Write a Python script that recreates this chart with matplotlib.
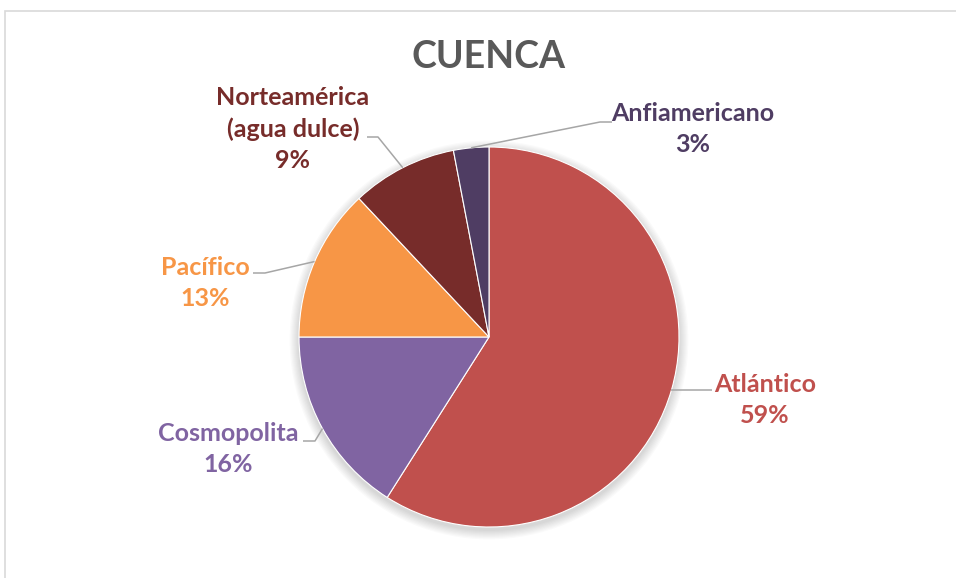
import numpy as np
import matplotlib
matplotlib.use("Agg")
import matplotlib.pyplot as plt
from matplotlib.patches import Circle

# ---- data ----
title = "CUENCA"
categories = ["Atlántico", "Cosmopolita", "Pacífico", "Norteamérica\n(agua dulce)", "Anfiamericano"]
values = [59, 16, 13, 9, 3]
colors = ["#C0504D", "#8064A2", "#F79646", "#772C2A", "#4F3D63"]

W, H = 956, 578
def Y(py):
    return H - py

plt.rcParams['font.family'] = ['Lato', 'DejaVu Sans']

fig = plt.figure(figsize=(W / 100, H / 100), dpi=100)
ax = fig.add_axes([0, 0, 1, 1])

cx, cy, R = 489, 337, 190

# soft shadow
for k in range(8):
    ax.add_patch(Circle((cx, Y(cy + 3)), R + 1 + k * 1.2, color="#000000",
                        alpha=0.018, lw=0, zorder=0))

wedges, _ = ax.pie(values, colors=colors, startangle=90, counterclock=False,
                   center=(cx, Y(cy)), radius=R,
                   wedgeprops=dict(linewidth=0.8, edgecolor="white"))
for w in wedges:
    w.set_zorder(2)

ax.set_xlim(0, W)
ax.set_ylim(0, H)
ax.set_aspect('auto')
ax.axis('off')

# frame (top and left visible)
ax.plot([5, 5, W + 5], [Y(H + 5), Y(11), Y(11)], color="#D9D9D9", lw=1.2,
        solid_joinstyle='miter', zorder=1)

ax.text(cx, Y(57), title, ha='center', va='center', fontsize=27,
        fontweight='bold', color="#595959")

# label layout: (text center x, y, elbow, end) in pixels
layout = [
    ((765, 400), (712, None), (712, None)),
    ((228, 449), (315, 441), (303, 441)),
    ((205, 283), (265, 273), (253, 273)),
    ((293, 129), (378, 137), (367, 137)),
    ((693, 129), (600, 122), (612, 122)),
]

for w, cat, val, col, (tpos, elbow, end) in zip(wedges, categories, values, colors, layout):
    mid = np.deg2rad((w.theta1 + w.theta2) / 2)
    ax_x = cx + R * np.cos(mid)
    ax_y = Y(cy) + R * np.sin(mid)
    ex, ey = elbow
    nx, ny = end
    if ey is None:
        ey = H - ax_y
        ny = ey
    ax.plot([ax_x, ex, nx], [ax_y, Y(ey), Y(ny)], color="#A6A6A6", lw=1.1,
            zorder=3, solid_capstyle='butt')
    ax.text(tpos[0], Y(tpos[1]), f"{cat}\n{val}%", ha='center', va='center',
            fontsize=18, fontweight='bold', color=col, linespacing=1.42,
            zorder=4)

fig.savefig("out.png", dpi=100)
